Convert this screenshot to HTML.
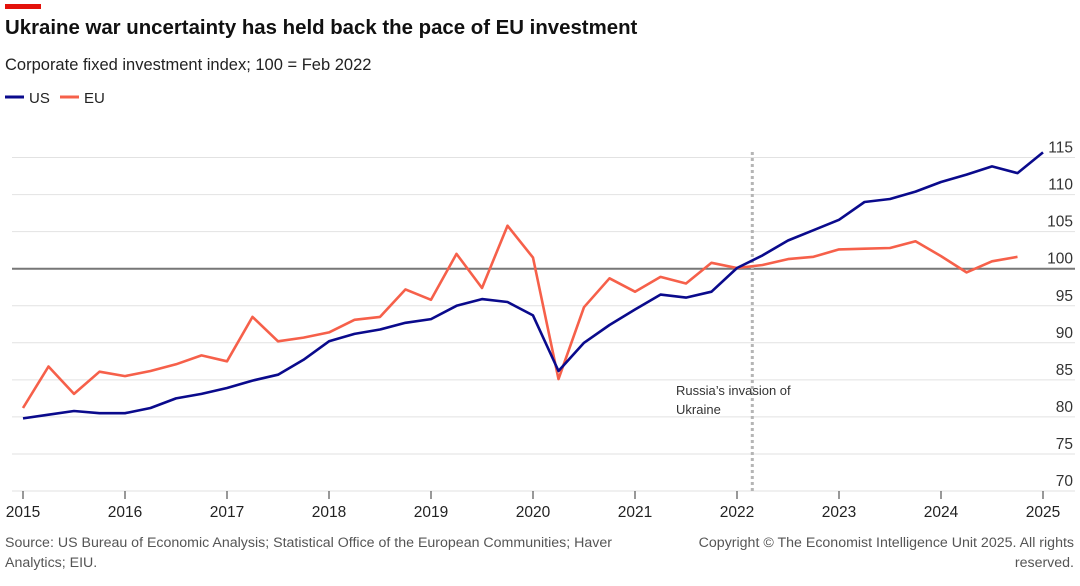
<!DOCTYPE html>
<html><head><meta charset="utf-8">
<style>
body{margin:0;background:#fff;font-family:"Liberation Sans",sans-serif;}
svg text{font-family:"Liberation Sans",sans-serif;}
</style></head>
<body>
<svg id="chart" width="1080" height="581" viewBox="0 0 1080 581">
<rect x="5" y="4" width="36" height="5" fill="#e3120b"/>
<text x="5" y="34" font-size="20.4" font-weight="bold" fill="#111">Ukraine war uncertainty has held back the pace of EU investment</text>
<text x="5" y="70" font-size="16.5" fill="#222">Corporate fixed investment index; 100 = Feb 2022</text>
<g>
<line x1="5" y1="97" x2="24" y2="97" stroke="#0a0a8c" stroke-width="3"/>
<text x="29" y="103" font-size="15" fill="#222">US</text>
<line x1="60" y1="97" x2="79" y2="97" stroke="#f6604a" stroke-width="3"/>
<text x="84" y="103" font-size="15" fill="#222">EU</text>
</g>
<g id="grid"></g>
<g id="marks"></g>
<text x="5" y="547" font-size="14.2" fill="#555">Source: US Bureau of Economic Analysis; Statistical Office of the European Communities; Haver</text>
<text x="5" y="567" font-size="14.2" fill="#555">Analytics; EIU.</text>
<text x="1074" y="547" font-size="14.2" fill="#555" text-anchor="end">Copyright © The Economist Intelligence Unit 2025. All rights</text>
<text x="1074" y="567" font-size="14.2" fill="#555" text-anchor="end">reserved.</text>
</svg>
<script>
const yTicks=[70,75,80,85,90,95,100,105,110,115];
const xYears=[2015,2016,2017,2018,2019,2020,2021,2022,2023,2024,2025];
const usValues=[79.8,80.3,80.8,80.5,80.5,81.2,82.5,83.1,83.9,84.9,85.7,87.7,90.2,91.2,91.8,92.7,93.2,95.0,95.9,95.5,93.7,86.2,90.0,92.4,94.5,96.5,96.1,96.9,100.1,101.8,103.8,105.2,106.6,109.0,109.4,110.4,111.7,112.7,113.8,112.9,115.7];
const euValues=[81.2,86.8,83.1,86.1,85.5,86.2,87.1,88.3,87.5,93.5,90.2,90.7,91.4,93.1,93.5,97.2,95.8,102.0,97.4,105.8,101.5,85.1,94.8,98.7,96.9,98.9,98.0,100.8,100.1,100.5,101.3,101.6,102.6,102.7,102.8,103.7,101.7,99.5,101.0,101.6];
const invasionDate=2022.15;
const NS='http://www.w3.org/2000/svg';
function xs(t){return 23+(t-2015)*102;}
function ys(v){return 268.7-(v-100)*7.41;}
function mk(tag,attrs,parent){const e=document.createElementNS(NS,tag);for(const k in attrs)e.setAttribute(k,attrs[k]);parent.appendChild(e);return e;}
const grid=document.getElementById('grid'),marks=document.getElementById('marks');
yTicks.forEach(v=>{
  const l=mk('line',{x1:12,x2:1075,y1:ys(v),y2:ys(v),stroke:v===100?'#777':'#e2e2e2','stroke-width':v===100?2:1},grid);
  
  
  const t=mk('text',{x:1073,y:ys(v)-5,'text-anchor':'end','font-size':15.5,fill:'#333'},grid);
  t.textContent=v;
  
  
});
xYears.forEach(y=>{
  const l=mk('line',{x1:xs(y),x2:xs(y),y1:491,y2:499,stroke:'#333','stroke-width':1},grid);
  
  
  const t=mk('text',{x:xs(y),y:517,'text-anchor':'middle','font-size':15.5,fill:'#222'},grid);
  t.textContent=y;
  
  
});
const vl=mk('line',{x1:xs(invasionDate),x2:xs(invasionDate),y1:152,y2:491,stroke:'#b5b5b5','stroke-width':3,'stroke-dasharray':'3 3'},marks);


const a1=mk('text',{x:676,y:395,'font-size':13,fill:'#333'},marks);a1.textContent="Russia’s invasion of";


const a2=mk('text',{x:676,y:414,'font-size':13,fill:'#333'},marks);a2.textContent="Ukraine";


function path(vals,color,name){
  const d=vals.map((v,i)=>(i?'L':'M')+xs(2015+i/4).toFixed(1)+','+ys(v).toFixed(1)).join('');
  const p=mk('path',{d:d,fill:'none',stroke:color,'stroke-width':2.6,'stroke-linejoin':'round'},marks);
  
  
}
path(euValues,'#f6604a','eu-line');
path(usValues,'#0a0a8c','us-line');
</script>
</body></html>
